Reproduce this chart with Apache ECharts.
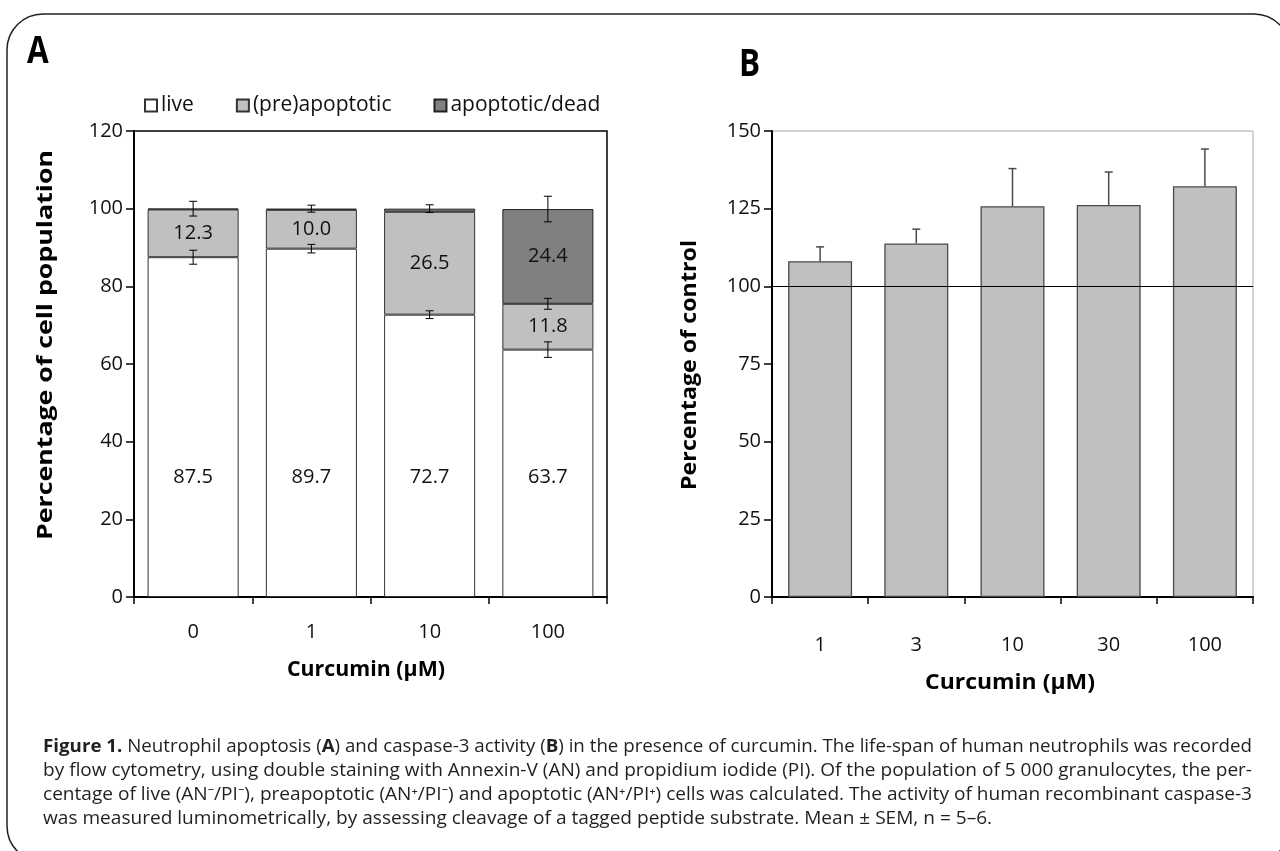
<!DOCTYPE html>
<html><head><meta charset="utf-8">
<script src="https://cdn.jsdelivr.net/npm/echarts@6/dist/echarts.min.js"></script>
<style>html,body{margin:0;padding:0;background:#fff}#c{width:1280px;height:851px}</style>
</head><body><div id="c"></div>
<script>
// ---------- Panel A data ----------
const catsA = ['0', '1', '10', '100'];
const liveA = [87.5, 89.7, 72.7, 63.7];
const preA = [12.3, 10.0, 26.5, 11.8];
const deadA = [0.2, 0.3, 0.8, 24.4];
const liveErrA = [1.8, 1.1, 1.0, 2.0];
const preErrA = [null, null, null, 1.4];
const topErrA = [1.9, 0.9, 1.0, 3.3];
const seriesNamesA = ['live', '(pre)apoptotic', 'apoptotic/dead'];
// ---------- Panel B data ----------
const catsB = ['1', '3', '10', '30', '100'];
const valB = [108.1, 113.8, 125.8, 126.2, 132.2];
const errB = [4.6, 4.6, 12.1, 10.6, 12.0];
const refLineB = 100;
// ---------- texts ----------
const titleAy = 'Percentage of cell population';
const titleBy = 'Percentage of control';
const titleX = 'Curcumin (\u00B5M)';

const F = "'Open Sans', 'Noto Sans', sans-serif";

const errPtsA = [];
for (let i = 0; i < catsA.length; i++) {
  errPtsA.push([i, liveA[i], liveErrA[i]]);
  if (preErrA[i] != null) errPtsA.push([i, liveA[i] + preA[i], preErrA[i]]);
  errPtsA.push([i, liveA[i] + preA[i] + deadA[i], topErrA[i]]);
}
const errPtsB = valB.map((v, i) => [i, v, errB[i]]);

function errRenderA(params, api) {
  const x = api.value(0), c = api.value(1), e = api.value(2);
  const hi = api.coord([x, c + e]), lo = api.coord([x, c - e]);
  const cap = 4, st = { stroke: '#000', lineWidth: 1 };
  return { type: 'group', children: [
    { type: 'line', shape: { x1: hi[0], y1: hi[1], x2: lo[0], y2: lo[1] }, style: st },
    { type: 'line', shape: { x1: hi[0] - cap, y1: hi[1], x2: hi[0] + cap, y2: hi[1] }, style: st },
    { type: 'line', shape: { x1: lo[0] - cap, y1: lo[1], x2: lo[0] + cap, y2: lo[1] }, style: st }
  ]};
}
function errRenderB(params, api) {
  const x = api.value(0), c = api.value(1), e = api.value(2);
  const hi = api.coord([x, c + e]), lo = api.coord([x, c]);
  const cap = 4, st = { stroke: '#4a4a4a', lineWidth: 1.5 };
  return { type: 'group', children: [
    { type: 'line', shape: { x1: hi[0], y1: hi[1], x2: lo[0], y2: lo[1] }, style: st },
    { type: 'line', shape: { x1: hi[0] - cap, y1: hi[1], x2: hi[0] + cap, y2: hi[1] }, style: st }
  ]};
}

const mctx = document.createElement('canvas').getContext('2d');
function mw(weight, size, s) { mctx.font = weight + ' ' + size + 'px ' + F; return mctx.measureText(s).width; }

function fitTitle(text, size, cx, cy, len, vertical) {
  const w = mw('bold', size, text);
  return { type: 'text', x: cx, y: cy, rotation: vertical ? Math.PI / 2 : 0, scaleX: len / w, silent: true,
    style: { text: text, fontFamily: F, fontSize: size, fontWeight: 'bold', fill: '#000', align: 'center', verticalAlign: 'middle' } };
}

// caption
const CAP_SIZE = 18;
const capLines = [
  [['b', 'Figure 1.'], ['r', ' Neutrophil apoptosis ('], ['b', 'A'], ['r', ') and caspase-3 activity ('], ['b', 'B'], ['r', ') in the presence of curcumin. The life-span of human neutrophils was recorded']],
  [['r', 'by flow cytometry, using double staining with Annexin-V (AN) and propidium iodide (PI). Of the population of 5 000 granulocytes, the per-']],
  [['r', 'centage of live (AN\u207B/PI\u207B), preapoptotic (AN\u207A/PI\u207B) and apoptotic (AN\u207A/PI\u207A) cells was calculated. The activity of human recombinant caspase-3']],
  [['r', 'was measured luminometrically, by assessing cleavage of a tagged peptide substrate. Mean \u00B1 SEM, n = 5\u20136.']]
];
const capLeft = 43, capRight = 1252, capY0 = 747, capDY = 24;
const capGraphics = [];
let lastScale = 1;
capLines.forEach((segs, li) => {
  let width = 0;
  segs.forEach(s => { width += mw(s[0] === 'b' ? 'bold' : 'normal', CAP_SIZE, s[1]); });
  const sc = (li < 3) ? (capRight - capLeft) / width : lastScale;
  lastScale = sc;
  capGraphics.push({
    type: 'text', x: capLeft, y: capY0 + li * capDY, scaleX: sc, silent: true,
    style: {
      text: segs.map(s => '{' + s[0] + '|' + s[1] + '}').join(''),
      rich: {
        b: { fontFamily: F, fontSize: CAP_SIZE, fontWeight: 'bold', fill: '#231f20' },
        r: { fontFamily: F, fontSize: CAP_SIZE, fill: '#231f20' }
      },
      verticalAlign: 'middle', align: 'left'
    }
  });
});

const colors = ['#ffffff', '#c0c0c0', '#808080'];
const lbl = { show: true, color: '#111', fontFamily: F, fontSize: 20,
  formatter: p => (p.value >= 5 ? p.value.toFixed(1) : '') };

const chart = echarts.init(document.getElementById('c'), null, { renderer: 'canvas' });
chart.setOption({
  animation: false,
  backgroundColor: '#fff',
  grid: [
    { left: 134, top: 131, width: 473, height: 466, show: true, borderColor: '#000', borderWidth: 1.5, backgroundColor: 'transparent' },
    { left: 772, top: 131, width: 481, height: 466, show: true, borderColor: '#a6a6a6', borderWidth: 1, backgroundColor: 'transparent' }
  ],
  legend: {
    data: seriesNamesA, left: 139, top: 90, itemWidth: 12, itemHeight: 12, itemGap: 42,
    icon: 'rect', textStyle: { fontFamily: F, fontSize: 21, color: '#111', padding: [0, 0, 0, -1] }
  },
  xAxis: [
    { type: 'category', gridIndex: 0, data: catsA, axisLine: { lineStyle: { color: '#000', width: 2 } },
      axisTick: { show: true, alignWithLabel: false, length: 7, lineStyle: { color: '#000', width: 1.5 } },
      axisLabel: { fontFamily: F, fontSize: 20, color: '#111', margin: 25 } },
    { type: 'category', gridIndex: 1, data: catsB, axisLine: { lineStyle: { color: '#000', width: 2 } },
      axisTick: { show: true, alignWithLabel: false, length: 7, lineStyle: { color: '#000', width: 1.5 } },
      axisLabel: { fontFamily: F, fontSize: 20, color: '#111', margin: 38 } }
  ],
  yAxis: [
    { type: 'value', gridIndex: 0, min: 0, max: 120, interval: 20,
      axisLine: { show: true, lineStyle: { color: '#000', width: 2 } },
      axisTick: { show: true, length: 8, lineStyle: { color: '#000', width: 1.5 } },
      splitLine: { show: false },
      axisLabel: { fontFamily: F, fontSize: 20, color: '#111', margin: 11 } },
    { type: 'value', gridIndex: 1, min: 0, max: 150, interval: 25,
      axisLine: { show: true, lineStyle: { color: '#000', width: 2 } },
      axisTick: { show: true, length: 8, lineStyle: { color: '#000', width: 1.5 } },
      splitLine: { show: false },
      axisLabel: { fontFamily: F, fontSize: 20, color: '#111', margin: 11 } }
  ],
  series: [
    { name: seriesNamesA[0], type: 'bar', stack: 'a', xAxisIndex: 0, yAxisIndex: 0, data: liveA, barWidth: '77%',
      itemStyle: { color: colors[0], borderColor: '#333', borderWidth: 1 },
      label: Object.assign({}, lbl, { position: 'insideBottom', distance: 110 }) },
    { name: seriesNamesA[1], type: 'bar', stack: 'a', xAxisIndex: 0, yAxisIndex: 0, data: preA, barWidth: '77%',
      itemStyle: { color: colors[1], borderColor: '#333', borderWidth: 1 },
      label: Object.assign({}, lbl, { position: 'inside' }) },
    { name: seriesNamesA[2], type: 'bar', stack: 'a', xAxisIndex: 0, yAxisIndex: 0, data: deadA, barWidth: '77%',
      itemStyle: { color: colors[2], borderColor: '#222', borderWidth: 1 },
      label: Object.assign({}, lbl, { position: 'inside' }) },
    { type: 'custom', xAxisIndex: 0, yAxisIndex: 0, data: errPtsA, renderItem: errRenderA, z: 5, silent: true },
    { type: 'bar', xAxisIndex: 1, yAxisIndex: 1, data: valB, barWidth: '66.5%',
      itemStyle: { color: '#c0c0c0', borderColor: '#4a4a4a', borderWidth: 1.3 },
      markLine: { silent: true, symbol: 'none', label: { show: false },
        lineStyle: { color: '#000', type: 'solid', width: 1 }, data: [{ yAxis: refLineB }] } },
    { type: 'custom', xAxisIndex: 1, yAxisIndex: 1, data: errPtsB, renderItem: errRenderB, z: 5, silent: true }
  ],
  graphic: [
    { type: 'rect', shape: { x: 7, y: 14, width: 1283, height: 848, r: 36 }, style: { fill: 'none', stroke: '#231f20', lineWidth: 1.5 }, silent: true },
    { type: 'text', x: 27, y: 52, scaleX: 0.85, style: { text: 'A', fontFamily: F, fontSize: 37, fontWeight: 'bold', fill: '#000', verticalAlign: 'middle' } },
    { type: 'text', x: 739, y: 65, scaleX: 0.85, style: { text: 'B', fontFamily: F, fontSize: 37, fontWeight: 'bold', fill: '#000', verticalAlign: 'middle' } },
    fitTitle(titleAy, 21, 46, 345, 390, true),
    fitTitle(titleBy, 21, 690, 365, 250, true),
    fitTitle(titleX, 21, 366, 670, 158, false),
    fitTitle(titleX, 21, 1010, 683, 170, false)
  ].concat(capGraphics)
});
</script>
</body></html>
